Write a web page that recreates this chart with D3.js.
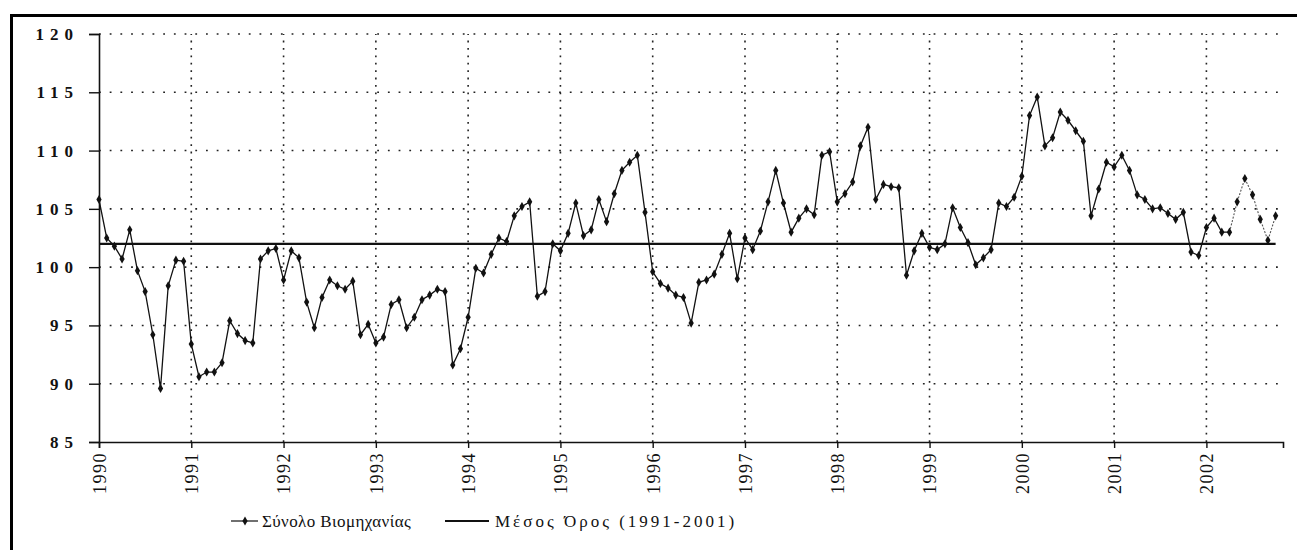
<!DOCTYPE html>
<meta charset="utf-8">

<script src="https://d3js.org/d3.v7.min.js"></script>

<style>
  body { margin: 0; background: #fff; }
  svg text { fill: #111; }
</style>

<div id="chart"></div>

<script>

// monthly index, Jan 1990 - Oct 2002
var startYear = 1990

var values1990 = [105.8, 102.5, 101.8, 100.7, 103.2, 99.7, 97.9, 94.2, 89.6, 98.4, 100.6, 100.5]
var values1991 = [93.4, 90.6, 91.0, 91.0, 91.8, 95.4, 94.3, 93.7, 93.5, 100.7, 101.4, 101.6]
var values1992 = [98.9, 101.4, 100.8, 97.0, 94.8, 97.4, 98.9, 98.4, 98.1, 98.8, 94.2, 95.1]
var values1993 = [93.5, 94.0, 96.8, 97.2, 94.8, 95.7, 97.2, 97.6, 98.1, 97.9, 91.6, 93.0]
var values1994 = [95.7, 99.9, 99.5, 101.1, 102.5, 102.2, 104.4, 105.2, 105.6, 97.5, 97.9, 102.0]
var values1995 = [101.4, 102.9, 105.5, 102.7, 103.2, 105.8, 103.9, 106.3, 108.3, 109.0, 109.6, 104.7]
var values1996 = [99.6, 98.6, 98.2, 97.6, 97.4, 95.2, 98.7, 98.9, 99.4, 101.1, 102.9, 99.0]
var values1997 = [102.5, 101.5, 103.1, 105.6, 108.3, 105.5, 103.0, 104.2, 105.0, 104.5, 109.6, 109.9]
var values1998 = [105.6, 106.3, 107.3, 110.4, 112.0, 105.8, 107.1, 106.9, 106.8, 99.3, 101.4, 102.9]
var values1999 = [101.7, 101.5, 102.0, 105.1, 103.4, 102.1, 100.2, 100.8, 101.5, 105.5, 105.2, 106.0]
var values2000 = [107.8, 113.0, 114.6, 110.4, 111.1, 113.3, 112.6, 111.7, 110.8, 104.4, 106.7, 109.0]
var values2001 = [108.6, 109.6, 108.3, 106.2, 105.8, 105.0, 105.1, 104.6, 104.1, 104.7, 101.3, 101.0]
var values2002 = [103.4, 104.2, 103.0, 103.0, 105.6, 107.6, 106.2, 104.1, 102.3, 104.4]

var average = 102.0

var yTicks = [85, 90, 95, 100, 105, 110, 115, 120]
var yearTicks = [1990, 1991, 1992, 1993, 1994, 1995, 1996, 1997, 1998, 1999, 2000, 2001, 2002]

var seriesName = "Σύνολο Βιομηχανίας"
var averageName = "Μέσος Όρος (1991-2001)"

////
var w = 1297
var h = 550
var serif = '"Liberation Serif", "Times New Roman", serif'

var svg = d3.select("#chart")
  .append("svg")
    .attr("width", w)
    .attr("height", h)
    .attr("font-family", serif)

var allValues = [].concat(values1990, values1991, values1992, values1993, values1994,
  values1995, values1996, values1997, values1998, values1999, values2000, values2001, values2002)

var data = allValues.map(function(v, i) { return {t: startYear + i / 12, v: v} })

var xScale = d3.scaleLinear()
  .domain([1990, 2002.83])
  .range([99, 1283])

var yScale = d3.scaleLinear()
  .domain([85, 120])
  .range([442, 34])

// outer frame (only top and left show on the page)
svg.append("rect")
  .attr("x", 11.5)
  .attr("y", 15.5)
  .attr("width", w + 20)
  .attr("height", h + 20)
  .attr("fill", "none")
  .attr("stroke", "#000")
  .attr("stroke-width", 3)

////
var grid = svg.append("g").attr("class", "grid")

grid.selectAll("line.h")
  .data(yTicks.filter(d => d > 85))
  .enter()
  .append("line")
    .attr("x1", xScale(1990))
    .attr("x2", xScale(2002.83))
    .attr("y1", d => yScale(d))
    .attr("y2", d => yScale(d))
    .attr("stroke", "#222")
    .attr("stroke-width", 1.6)
    .attr("stroke-dasharray", "1.8,8.9")

grid.selectAll("line.v")
  .data(yearTicks.filter(d => d > 1990))
  .enter()
  .append("line")
    .attr("x1", d => xScale(d))
    .attr("x2", d => xScale(d))
    .attr("y1", yScale(85))
    .attr("y2", yScale(120))
    .attr("stroke", "#222")
    .attr("stroke-width", 1.6)
    .attr("stroke-dasharray", "1.8,5.6")

////
var yAxis = svg.append("g")
  .attr("transform", `translate(${xScale(1990)},0)`)
  .call(d3.axisLeft(yScale).tickValues(yTicks).tickSize(10).tickPadding(10))

yAxis.attr("font-family", serif)
yAxis.select(".domain").attr("stroke", "#111").attr("stroke-width", 1.6)
yAxis.selectAll(".tick line").attr("stroke", "#111").attr("stroke-width", 1.4)
yAxis.selectAll("text")
  .attr("font-size", "17px")
  .attr("font-weight", "bold")
  .attr("letter-spacing", "6px")

var xAxis = svg.append("g")
  .attr("transform", `translate(0,${yScale(85)})`)
  .call(d3.axisBottom(xScale).tickValues(yearTicks).tickSize(6).tickFormat(d3.format("d")))

xAxis.attr("font-family", serif)
xAxis.select(".domain").attr("stroke", "#111").attr("stroke-width", 1.6)
xAxis.selectAll(".tick line").attr("stroke", "#111").attr("stroke-width", 1.4)
xAxis.selectAll("text")
  .attr("transform", "rotate(-90)")
  .attr("text-anchor", "end")
  .attr("x", -10)
  .attr("y", 0)
  .attr("dy", "0.35em")
  .attr("font-size", "18px")
  .attr("letter-spacing", "1.5px")

////
svg.append("line")
  .attr("x1", xScale(data[0].t))
  .attr("x2", xScale(data[data.length - 1].t))
  .attr("y1", yScale(average))
  .attr("y2", yScale(average))
  .attr("stroke", "#111")
  .attr("stroke-width", 2.2)

var line = d3.line()
  .x(d => xScale(d.t))
  .y(d => yScale(d.v))

// last months printed faint and dotted
var cut = data.length - 7

svg.append("path")
  .datum(data.slice(0, cut + 1))
  .attr("d", line)
  .attr("fill", "none")
  .attr("stroke", "#111")
  .attr("stroke-width", 1.3)

svg.append("path")
  .datum(data.slice(cut))
  .attr("d", line)
  .attr("fill", "none")
  .attr("stroke", "#555")
  .attr("stroke-width", 1.1)
  .attr("stroke-dasharray", "2,1.5")

var diamond = d3.symbol().type(d3.symbolDiamond).size(24)

svg.append("g")
  .selectAll("path")
  .data(data)
  .enter()
  .append("path")
    .attr("d", diamond)
    .attr("transform", d => `translate(${xScale(d.t)},${yScale(d.v)})`)
    .attr("fill", "#111")

////
var legend = svg.append("g").attr("transform", "translate(0,521)")

legend.append("line")
  .attr("x1", 231).attr("x2", 258)
  .attr("stroke", "#111").attr("stroke-width", 1.2)
legend.append("path")
  .attr("d", diamond)
  .attr("transform", "translate(245,0)")
  .attr("fill", "#111")
legend.append("text")
  .attr("x", 262)
  .attr("dy", "0.35em")
  .attr("font-size", "17px")
  .attr("letter-spacing", "0.4px")
  .text(seriesName)

legend.append("line")
  .attr("x1", 445).attr("x2", 489)
  .attr("stroke", "#111").attr("stroke-width", 2.2)
legend.append("text")
  .attr("x", 495)
  .attr("dy", "0.35em")
  .attr("font-size", "17px")
  .attr("letter-spacing", "3px")
  .text(averageName)

</script>
